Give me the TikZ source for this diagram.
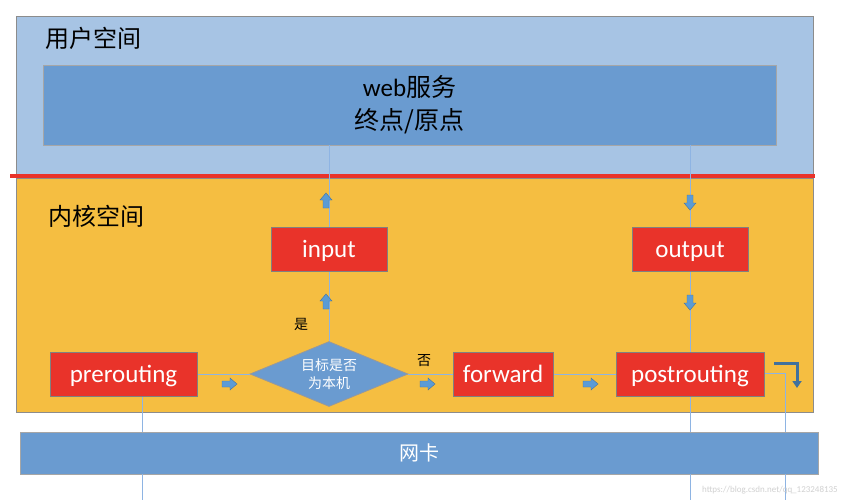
\documentclass[tikz,border=0pt]{standalone}
\usepackage{fontspec}
\setmainfont{Carlito}
\newfontfamily\cjk{Noto Sans CJK SC}
\usepackage{tikz}
\usetikzlibrary{shapes.geometric}
\usetikzlibrary{arrows.meta}
\definecolor{userblue}{HTML}{A7C4E4}
\definecolor{boxblue}{HTML}{6A9BD0}
\definecolor{kernelorange}{HTML}{F5BE41}
\definecolor{hookred}{HTML}{E9332A}
\definecolor{wireblue}{HTML}{8EB4E3}
\definecolor{arrowblue}{HTML}{5B9BD5}
\definecolor{bendblue}{HTML}{41719C}
\newcommand{\bigsize}{\fontsize{25}{29}\selectfont}
% small block arrow: position and direction
\newcommand{\flowmark}[2]{%
  \filldraw[fill=arrowblue, draw=arrowblue!75!black, line width=0.4pt, shift={#1}, rotate=#2]
    (-7,-3) -- (1,-3) -- (1,-6) -- (8,0) -- (1,6) -- (1,3) -- (-7,3) -- cycle;}
\tikzstyle{space}=[draw=black!45, line width=0.8pt, inner sep=0, outer sep=0]
\tikzstyle{hook}=[draw=black!50, line width=1pt, fill=hookred, text=white, inner sep=0,
                  minimum height=44pt, font=\bigsize, text height=19pt, text depth=3pt]
\tikzstyle{bluebox}=[draw=black!35, line width=0.8pt, fill=boxblue, inner sep=0]
\tikzstyle{decide}=[diamond, draw=black!40, line width=0.8pt, fill=boxblue, inner sep=0,
                    minimum width=158pt, minimum height=65pt, aspect=2.4, text=white,
                    align=center, font=\fontsize{14}{18}\selectfont\cjk]
\tikzstyle{wire}=[draw=wireblue, line width=0.9pt]
\tikzstyle{answer}=[inner sep=0, font=\fontsize{14}{16}\selectfont\cjk]

\begin{document}
\begin{tikzpicture}[x=1pt, y=-1pt]
        \useasboundingbox[fill=white] (0,0) rectangle (842,500);
        % the two spaces
        \node[space, fill=userblue, minimum width=797pt, minimum height=160pt] (user) at (414.5,96) {};
        \node[space, fill=kernelorange, minimum width=797pt, minimum height=234pt] (kernel) at (414.5,295) {};
        \node[anchor=west, inner sep=0, font=\fontsize{24}{28}\selectfont\cjk] (userlbl) at (45,38) {用户空间};
        \node[anchor=west, inner sep=0, font=\fontsize{24}{28}\selectfont\cjk] (kernellbl) at (48,216) {内核空间};
        \draw[hookred, line width=4pt] (10,176) -- (815,176);
        % boxes
        \node[bluebox, minimum width=733pt, minimum height=80pt, align=center,
              font=\bigsize] (web) at (409.5,105) {web{\cjk 服务}\\[4pt]{\cjk 终点/原点}};
        \node[hook, minimum width=116pt] (input) at (329,249) {input};
        \node[hook, minimum width=116pt] (output) at (690,249) {output};
        \node[hook, minimum width=147pt] (pre) at (123.5,374) {prerouting};
        \node[decide] (local) at (329,374) {目标是否\\为本机};
        \node[hook, minimum width=100pt] (fwd) at (503,374) {forward};
        \node[hook, minimum width=148pt] (post) at (690,374) {postrouting};
        \node[bluebox, minimum width=798pt, minimum height=42pt, text=white,
              font=\fontsize{20}{24}\selectfont\cjk] (nic) at (419,453) {网卡};
        \node[answer, anchor=south] (yes) at (301,331) {是};
        \node[answer, anchor=south] (no) at (424,367) {否};
        % wires
        \coordinate (inA) at (142,500);
        \coordinate (outA) at (690,500);
        \coordinate (bend) at (785,373);
        \coordinate (outB) at (785,500);
        \path[wire] (web.south -| input) -- (input.north);
        \path[wire] (input.south) -- (local.north);
        \path[wire] (web.south -| output) -- (output.north);
        \path[wire] (output.south) -- (post.north);
        \path[wire] (pre.east) -- (local.west);
        \path[wire] (local.east) -- (fwd.west);
        \path[wire] (fwd.east) -- (post.west);
        \path[wire] (pre.south -| inA) -- (nic.north -| inA);
        \path[wire] (nic.south -| inA) -- (inA);
        \path[wire] (post.south) -- (nic.north -| post);
        \path[wire] (nic.south -| post) -- (outA);
        \path[wire] (post.east |- bend) -- (bend) -- (nic.north -| bend);
        \path[wire] (nic.south -| bend) -- (outB);
        % flow marks
        \flowmark{(229,384)}{0}
        \flowmark{(427,384)}{0}
        \flowmark{(590,384)}{0}
        \flowmark{(326,201)}{90}
        \flowmark{(326,302)}{90}
        \flowmark{(690,202)}{-90}
        \flowmark{(690,302)}{-90}
        \coordinate (turnA) at (774,363);
        \coordinate (turnB) at (797,363);
        \coordinate (turnC) at (797,388);
        \draw[bendblue, line width=3pt, -{Triangle[length=7pt, width=9pt]}]
            (turnA) -- (turnB) -- (turnC);
        \node[anchor=east, inner sep=0, text=black!18, font=\fontsize{9}{10}\selectfont]
            (mark) at (838,490) {https://blog.csdn.net/qq\_123248135};
    \end{tikzpicture}
\end{document}
